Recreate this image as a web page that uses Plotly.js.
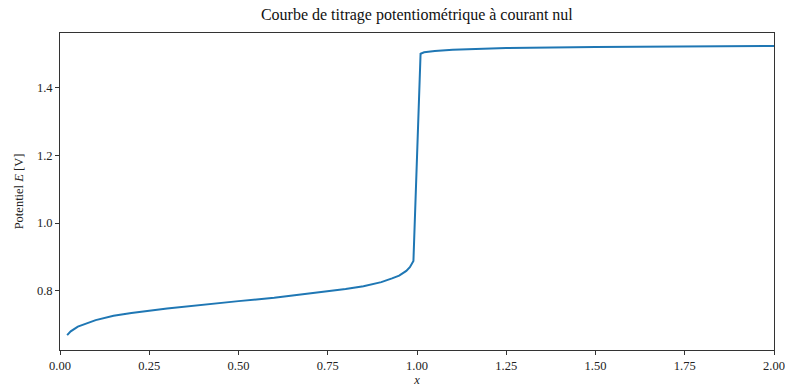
<!DOCTYPE html>
<html>
<head>
<meta charset="utf-8">
<script src="https://cdn.plot.ly/plotly-3.0.1.min.js"></script>
<style>html,body{margin:0;padding:0;background:#fff;}#chart{width:785px;height:387px;}</style>
</head>
<body>
<div id="chart"></div>
<script>
// Titration fraction x and measured potential E [V]
const xValues = [0.02, 0.03, 0.05, 0.07, 0.10, 0.15, 0.20, 0.30, 0.40, 0.50, 0.60, 0.70, 0.80, 0.85, 0.90, 0.93, 0.95, 0.97, 0.98, 0.99,
                 1.01, 1.02, 1.05, 1.10, 1.25, 1.50, 1.75, 2.00];
const eValues = [0.670, 0.681, 0.695, 0.703, 0.714, 0.727, 0.735, 0.748, 0.760, 0.770, 0.780, 0.792, 0.806, 0.814, 0.826, 0.837, 0.845, 0.859, 0.870, 0.888,
                 1.499, 1.503, 1.507, 1.511, 1.516, 1.519, 1.521, 1.522];
const xTicks = [0, 0.25, 0.5, 0.75, 1.0, 1.25, 1.5, 1.75, 2.0];
const xTickText = ["0.00", "0.25", "0.50", "0.75", "1.00", "1.25", "1.50", "1.75", "2.00"];
const yTicks = [0.8, 1.0, 1.2, 1.4];
const yTickText = ["0.8", "1.0", "1.2", "1.4"];

const font = "'Liberation Serif', 'Times New Roman', serif";

const trace = {
  x: xValues, y: eValues, type: "scatter", mode: "lines",
  line: {color: "#1f77b4", width: 2}, hoverinfo: "skip"
};

const layout = {
  width: 785, height: 387,
  margin: {l: 60, r: 11, t: 33, b: 37},
  paper_bgcolor: "#fff", plot_bgcolor: "#fff",
  showlegend: false,
  font: {family: font, size: 13, color: "#222"},
  title: {text: "Courbe de titrage potentiométrique à courant nul", font: {family: font, size: 16, color: "#111"},
          x: 0.531, xanchor: "center", y: 0.962, yanchor: "middle"},
  xaxis: {
    range: [0, 2], tickvals: xTicks, ticktext: xTickText,
    showgrid: false, zeroline: false,
    showline: true, linecolor: "#333", linewidth: 1, mirror: true,
    ticks: "outside", ticklen: 4, tickcolor: "#333",
    tickfont: {family: font, size: 12.5, color: "#222"},
    title: {text: "<i>x</i>", font: {family: font, size: 12.5, color: "#222"}, standoff: 11}
  },
  yaxis: {
    range: [0.626, 1.560], tickvals: yTicks, ticktext: yTickText,
    showgrid: false, zeroline: false,
    showline: true, linecolor: "#333", linewidth: 1, mirror: true,
    ticks: "outside", ticklen: 4, tickcolor: "#333",
    tickfont: {family: font, size: 12.5, color: "#222"},
    title: {text: "Potentiel <i>E</i> [V]", font: {family: font, size: 12.5, color: "#222"}, standoff: 10}
  }
};

Plotly.newPlot("chart", [trace], layout, {staticPlot: true, displayModeBar: false});
</script>
</body>
</html>
